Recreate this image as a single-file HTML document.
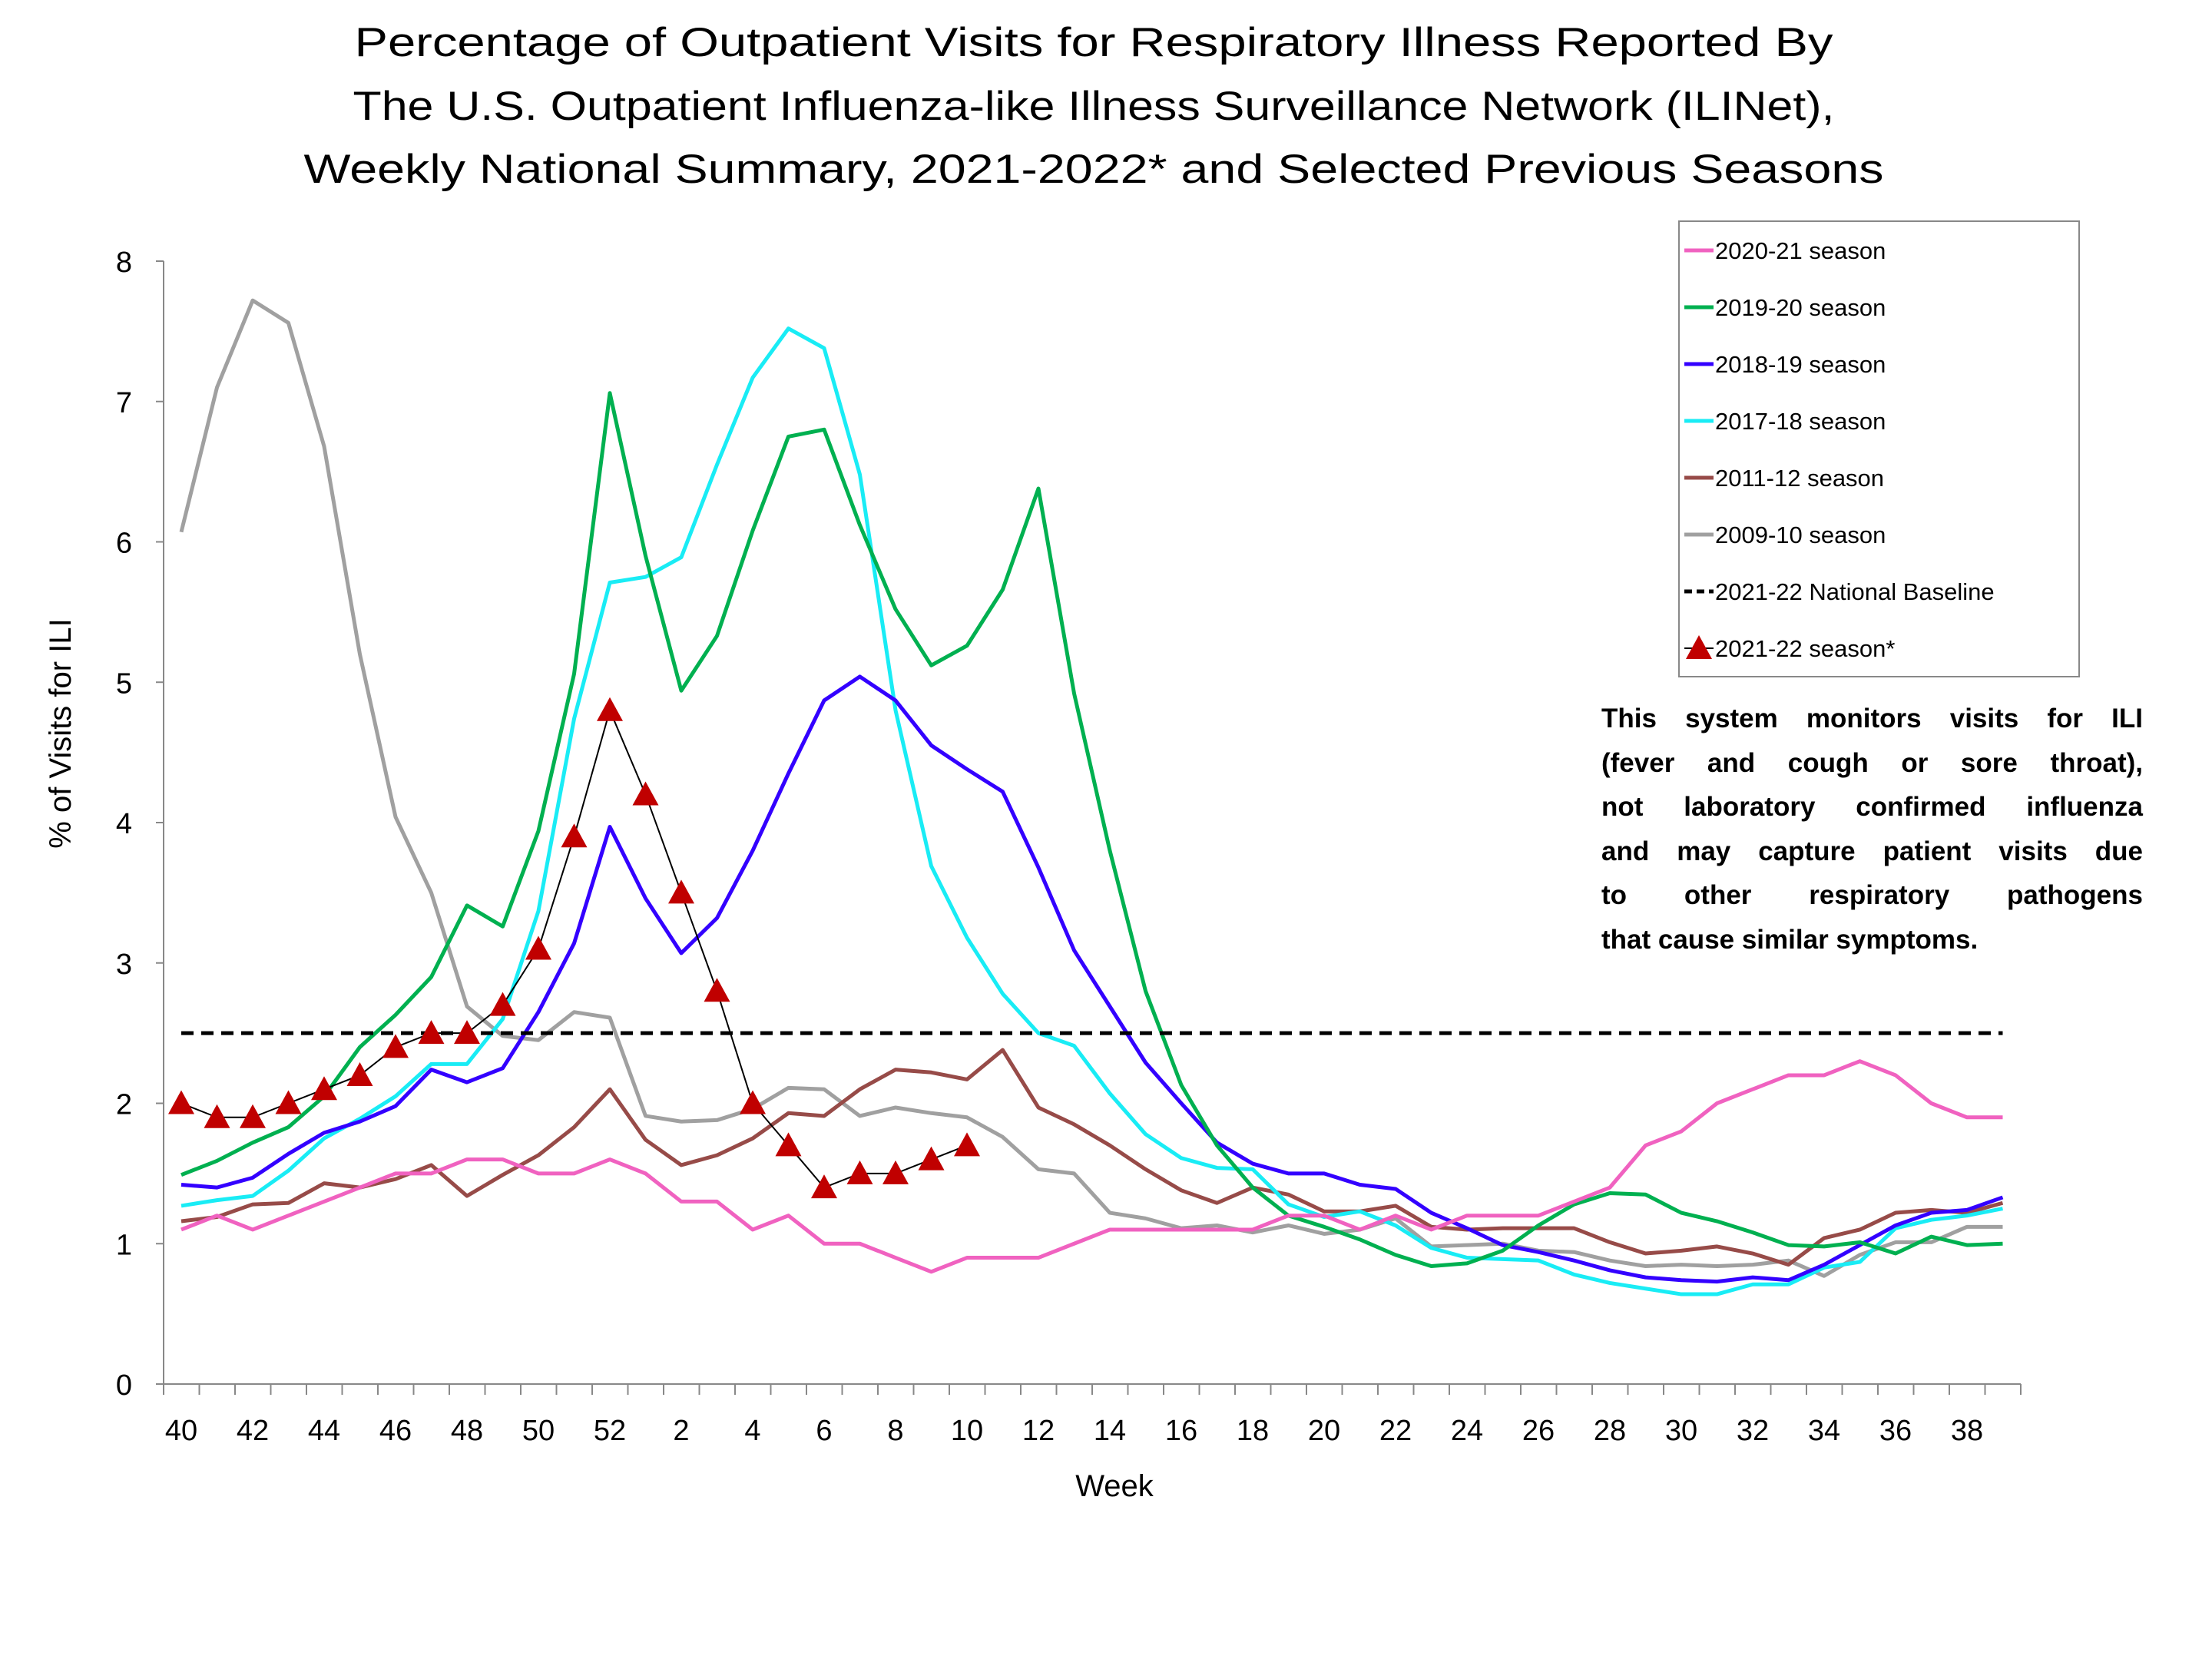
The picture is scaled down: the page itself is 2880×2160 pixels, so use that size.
<!DOCTYPE html>
<html><head><meta charset="utf-8">
<style>
body{margin:0;background:#fff;}
#wrap{position:relative;width:2880px;height:2160px;overflow:hidden;background:#fff;font-family:"Liberation Sans",sans-serif;}
#note{position:absolute;left:2085px;top:907px;width:705px;font-weight:bold;font-size:35px;line-height:57.5px;color:#000;}
#note div{text-align:justify;text-align-last:justify;white-space:nowrap;}
#note div.last{text-align-last:left;}
</style></head>
<body>
<div id="wrap">
<svg id="chart" width="2880" height="2160" xmlns="http://www.w3.org/2000/svg">
  <g font-family="Liberation Sans, sans-serif" font-size="53" text-anchor="middle" fill="#000">
    <text x="1424" y="73" textLength="1925" lengthAdjust="spacingAndGlyphs">Percentage of Outpatient Visits for Respiratory Illness Reported By</text>
    <text x="1424" y="156" textLength="1929" lengthAdjust="spacingAndGlyphs">The U.S. Outpatient Influenza-like Illness Surveillance Network (ILINet),</text>
    <text x="1424" y="238" textLength="2057" lengthAdjust="spacingAndGlyphs">Weekly National Summary, 2021-2022* and Selected Previous Seasons</text>
  </g>
  <g id="axes"></g>
  <g id="series"></g>
  <text x="0" y="0" transform="translate(92,955) rotate(-90)" font-size="40" text-anchor="middle">% of Visits for ILI</text>
  <text x="1451" y="1948" font-size="40" text-anchor="middle">Week</text>
  <g id="legend"></g>
</svg>
<div id="note">
<div>This system monitors visits for ILI</div>
<div>(fever and cough or sore throat),</div>
<div>not laboratory confirmed influenza</div>
<div>and may capture patient visits due</div>
<div>to other respiratory pathogens</div>
<div class="last">that cause similar symptoms.</div>
</div>
</div>
<script>
const weeks = [40,41,42,43,44,45,46,47,48,49,50,51,52,1,2,3,4,5,6,7,8,9,10,11,12,13,14,15,16,17,18,19,20,21,22,23,24,25,26,27,28,29,30,31,32,33,34,35,36,37,38,39];
const yTicks = [0,1,2,3,4,5,6,7,8];
const s2020 = [1.1,1.2,1.1,1.2,1.3,1.4,1.5,1.5,1.6,1.6,1.5,1.5,1.6,1.5,1.3,1.3,1.1,1.2,1.0,1.0,0.9,0.8,0.9,0.9,0.9,1.0,1.1,1.1,1.1,1.1,1.1,1.2,1.2,1.1,1.2,1.1,1.2,1.2,1.2,1.3,1.4,1.7,1.8,2.0,2.1,2.2,2.2,2.3,2.2,2.0,1.9,1.9];
const s2019 = [1.49,1.59,1.72,1.83,2.05,2.4,2.63,2.9,3.41,3.26,3.94,5.06,7.06,5.9,4.94,5.33,6.08,6.75,6.8,6.12,5.52,5.12,5.26,5.66,6.38,4.92,3.8,2.8,2.13,1.7,1.4,1.2,1.12,1.03,0.92,0.84,0.86,0.95,1.13,1.28,1.36,1.35,1.22,1.16,1.08,0.99,0.98,1.01,0.93,1.05,0.99,1.0];
const s2018 = [1.42,1.4,1.47,1.64,1.79,1.87,1.98,2.24,2.15,2.25,2.65,3.14,3.97,3.46,3.07,3.32,3.8,4.35,4.87,5.04,4.87,4.55,4.38,4.22,3.68,3.09,2.69,2.29,2.0,1.72,1.57,1.5,1.5,1.42,1.39,1.22,1.11,0.99,0.94,0.88,0.81,0.76,0.74,0.73,0.76,0.74,0.85,0.99,1.13,1.22,1.24,1.33];
const s2017 = [1.27,1.31,1.34,1.52,1.75,1.89,2.05,2.28,2.28,2.6,3.37,4.74,5.71,5.75,5.89,6.55,7.17,7.52,7.38,6.48,4.8,3.69,3.18,2.78,2.5,2.41,2.07,1.78,1.61,1.54,1.53,1.28,1.19,1.23,1.13,0.97,0.9,0.89,0.88,0.78,0.72,0.68,0.64,0.64,0.71,0.71,0.83,0.87,1.11,1.17,1.2,1.25];
const s2011 = [1.16,1.19,1.28,1.29,1.43,1.4,1.46,1.56,1.34,1.49,1.63,1.83,2.1,1.74,1.56,1.63,1.75,1.93,1.91,2.1,2.24,2.22,2.17,2.38,1.97,1.85,1.7,1.53,1.38,1.29,1.4,1.35,1.23,1.23,1.27,1.12,1.1,1.11,1.11,1.11,1.01,0.93,0.95,0.98,0.93,0.85,1.04,1.1,1.22,1.24,1.22,1.29];
const s2009 = [6.07,7.1,7.72,7.56,6.68,5.2,4.04,3.5,2.69,2.48,2.45,2.65,2.61,1.91,1.87,1.88,1.96,2.11,2.1,1.91,1.97,1.93,1.9,1.76,1.53,1.5,1.22,1.18,1.11,1.13,1.08,1.13,1.07,1.1,1.18,0.98,0.99,1.0,0.95,0.94,0.88,0.84,0.85,0.84,0.85,0.88,0.77,0.92,1.01,1.01,1.12,1.12];
const s2021 = [2.0,1.9,1.9,2.0,2.1,2.2,2.4,2.5,2.5,2.7,3.1,3.9,4.8,4.2,3.5,2.8,2.0,1.7,1.4,1.5,1.5,1.6,1.7];
const baseline = 2.5;
const seriesNames = ["2020-21 season","2019-20 season","2018-19 season","2017-18 season","2011-12 season","2009-10 season"];

const NS="http://www.w3.org/2000/svg";
const X0=236, STEP=46.5, Y0=1802, YU=182.75;
function xs(i){return X0+STEP*i;}
function ys(v){return Y0-YU*v;}
function mk(tag,attrs,parent){const e=document.createElementNS(NS,tag);for(const k in attrs)e.setAttribute(k,attrs[k]);parent.appendChild(e);return e;}

const axes=document.getElementById('axes');
let ax=mk('line',{x1:213,y1:340,x2:213,y2:Y0,stroke:'#888','stroke-width':2},axes);


let bx=mk('line',{x1:213,y1:Y0,x2:213+STEP*52,y2:Y0,stroke:'#888','stroke-width':2},axes);


yTicks.forEach(v=>{
  let t=mk('line',{x1:203,y1:ys(v),x2:213,y2:ys(v),stroke:'#888','stroke-width':2},axes);
  
  
  let l=mk('text',{x:172,y:ys(v)+14,'font-size':38,'text-anchor':'end'},axes);
  l.textContent=v;
  
  
});
for(let i=0;i<=weeks.length;i++){
  let t=mk('line',{x1:213+STEP*i,y1:Y0,x2:213+STEP*i,y2:Y0+14,stroke:'#888','stroke-width':2},axes);
  
  
}
weeks.forEach((w,i)=>{
  if(i%2===0){
    let l=mk('text',{x:xs(i),y:1875,'font-size':38,'text-anchor':'middle'},axes);
    l.textContent=w;
    
    
  }
});

const ser=document.getElementById('series');
const colors=['#f062c0','#00b050','#3300ff','#19ecf5','#974b48','#a0a0a0'];
const data=[s2020,s2019,s2018,s2017,s2011,s2009];
// draw order: older behind
[5,4,3,2,1,0].forEach(k=>{
  const pts=data[k].map((v,i)=>xs(i)+','+ys(v)).join(' ');
  let p=mk('polyline',{points:pts,fill:'none',stroke:colors[k],'stroke-width':5,'stroke-linejoin':'round'},ser);
  
  
});
let bl=mk('line',{x1:xs(0),y1:ys(baseline),x2:xs(weeks.length-1),y2:ys(baseline),stroke:'#000','stroke-width':5,'stroke-dasharray':'16,10'},ser);


let cl=mk('polyline',{points:s2021.map((v,i)=>xs(i)+','+ys(v)).join(' '),fill:'none',stroke:'#000','stroke-width':2},ser);


function tri(cx,cy,parent){return mk('polygon',{points:`${cx},${cy-17} ${cx-17},${cy+14} ${cx+17},${cy+14}`,fill:'#c00000'},parent);}
s2021.forEach((v,i)=>{
  let t=tri(xs(i),ys(v),ser);
  
  
});

const lg=document.getElementById('legend');
let box=mk('rect',{x:2186,y:288,width:521,height:593,fill:'#fff',stroke:'#888','stroke-width':2},lg);


const lgLabels=seriesNames.concat(["2021-22 National Baseline","2021-22 season*"]);
lgLabels.forEach((name,i)=>{
  const y=326+i*74;
  const g=mk('g',{},lg);
  
  
  if(i<6){mk('line',{x1:2193,y1:y,x2:2231,y2:y,stroke:colors[i],'stroke-width':5},g);}
  else if(i===6){mk('line',{x1:2193,y1:y,x2:2231,y2:y,stroke:'#000','stroke-width':5,'stroke-dasharray':'10,6'},g);}
  else{mk('line',{x1:2193,y1:y,x2:2231,y2:y,stroke:'#000','stroke-width':2},g);tri(2212,y,g);}
  const t=mk('text',{x:2233,y:y+11,'font-size':31},g);
  t.textContent=name;
});
</script>
</body></html>
